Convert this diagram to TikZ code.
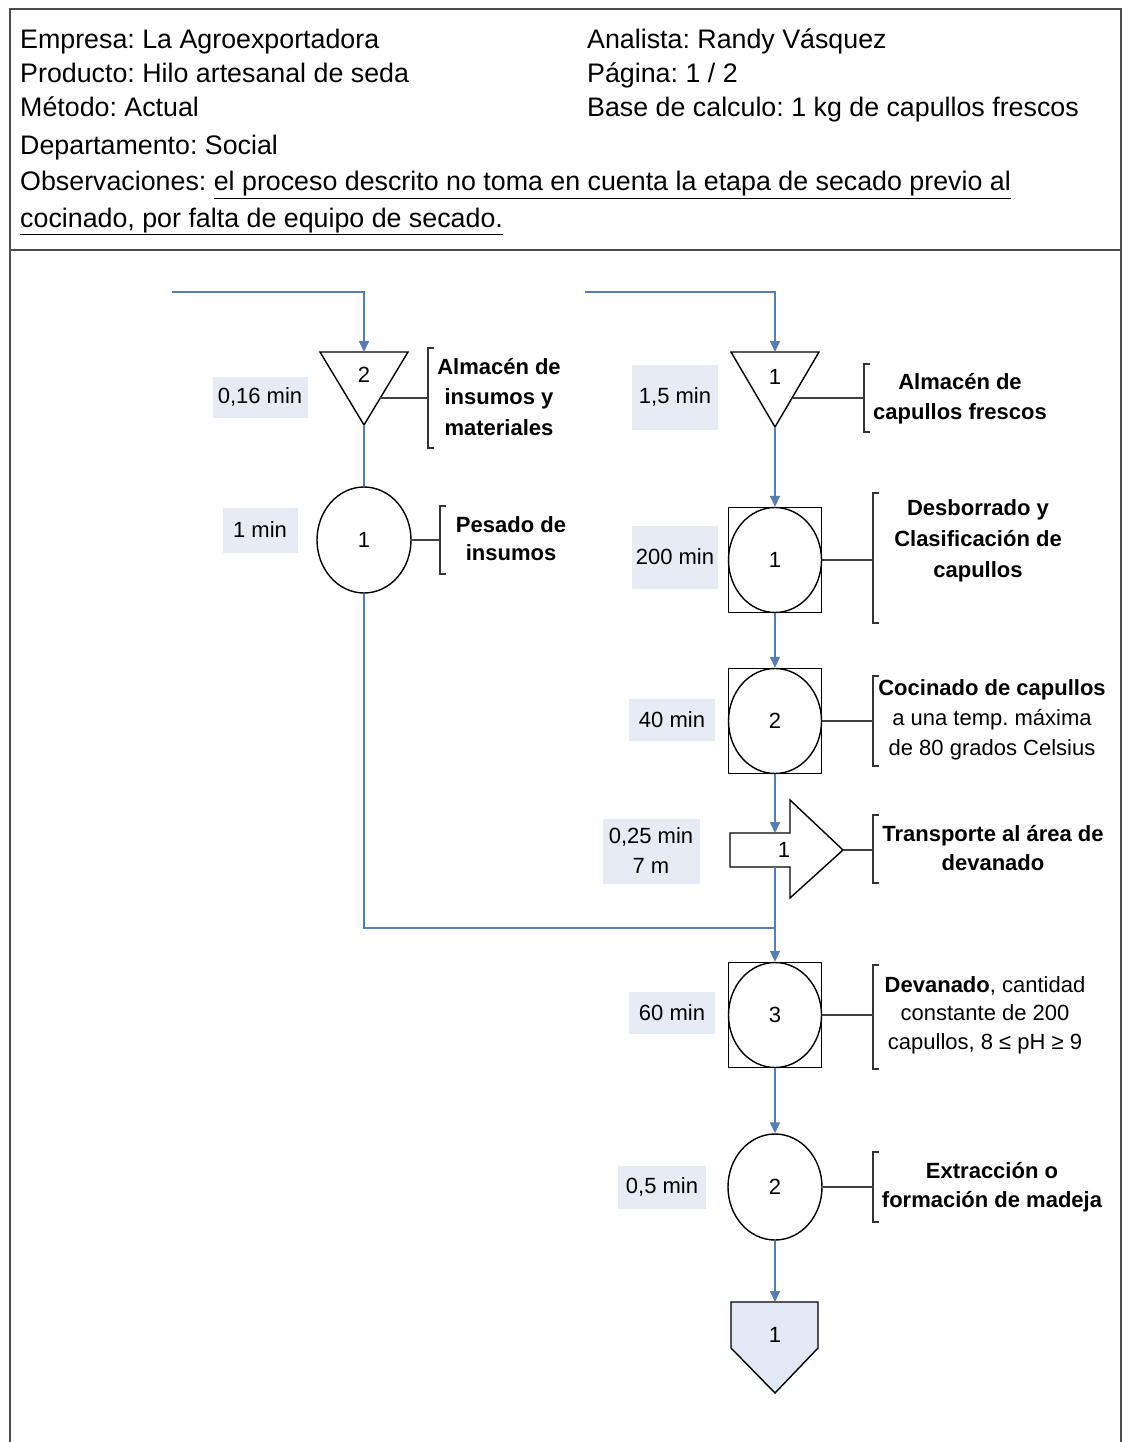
\documentclass[tikz,border=0pt]{standalone}
\usepackage{fontspec}
\setmainfont{Liberation Sans}
\frenchspacing
\usetikzlibrary{arrows.meta,shapes.geometric,calc,positioning}
\definecolor{flowblue}{RGB}{88,124,180}
\definecolor{timefill}{RGB}{231,235,243}
\definecolor{endfill}{RGB}{226,232,244}

\begin{document}
\begin{tikzpicture}[x=1pt, y=-1pt, >={Triangle[width=10pt,length=11pt]},
    flow/.style={draw=flowblue, line width=1.8pt},
    symb/.style={draw=black, line width=1.4pt},
    opcirc/.style={ellipse, symb, fill=white, minimum width=94pt, minimum height=106pt, inner sep=0pt, font=\fontsize{22}{26}\selectfont},
    opsq/.style={rectangle, symb, minimum width=93pt, minimum height=105pt, inner sep=0pt},
    timebox/.style={fill=timefill, align=center, inner sep=0pt, font=\fontsize{22}{30}\selectfont},
    desc/.style={align=center, inner sep=0pt, font=\fontsize{22}{30}\selectfont},
    tie/.style={draw=black!75, line width=1.8pt},
    brk/.style={draw=black!80, line width=1.4pt},
    hdr/.style={anchor=base west, inner sep=0pt, font=\fontsize{26.8}{32}\selectfont},
    num/.style={inner sep=0pt, font=\fontsize{22}{26}\selectfont}]
    \useasboundingbox (0,0) rectangle (1123,1442);

    % Frame and header
    \draw[black!70, line width=2pt] (10,1442) -- (10,9) -- (1121,9) -- (1121,1442);
    \draw[black!70, line width=2pt] (10,250) -- (1121,250);
    \node[hdr] (emp) at (20,49) {Empresa: La Agroexportadora};
    \node[hdr] (prod) at (20,83) {Producto: Hilo artesanal de seda};
    \node[hdr] (met) at (20,117) {Método: Actual};
    \node[hdr] (dep) at (20,155) {Departamento: Social};
    \node[hdr] (obs) at (20,191) {Observaciones: \underline{el proceso descrito no toma en cuenta la etapa de secado previo al}};
    \node[hdr] (obsb) at (20,227) {\underline{cocinado, por falta de equipo de secado.}};
    \node[hdr] (ana) at (587,49) {Analista: Randy Vásquez};
    \node[hdr] (pag) at (587,83) {Página: 1 / 2};
    \node[hdr] (base) at (587,117) {Base de calculo: 1 kg de capullos frescos};

    % Left branch: insumos
    \coordinate (in2) at (172,292);
    \coordinate (a2) at (364,352);
    \coordinate (a2b) at (364,425);
    \coordinate (a2s) at (380,398);
    \draw[symb, fill=white] (320,352) -- (408,352) -- (a2b) -- cycle;
    \node[num] (a2num) at (364,375) {2};
    \node[timebox, minimum width=95pt, minimum height=41pt] (t1) at (260,397) {0,16 min};
    \coordinate (br1) at (428,398);
    \draw[brk] ($(br1)+(6,-50)$) -- ++(-6,0) -- ++(0,100) -- ++(6,0);
    \node[desc, font=\fontsize{22}{30.5}\selectfont\bfseries] (d1) at (499,397) {Almacén de\\insumos y\\materiales};

    \node[opcirc] (pes) at (364,540) {1};
    \node[timebox, minimum width=75pt, minimum height=45pt] (t2) at (260,530) {1 min};
    \coordinate (br2) at (440,540);
    \draw[brk] ($(br2)+(6,-34)$) -- ++(-6,0) -- ++(0,68) -- ++(6,0);
    \node[desc, font=\fontsize{22}{28}\selectfont\bfseries] (d2) at (511,539) {Pesado de\\insumos};

    % Right branch: capullos
    \coordinate (in1) at (585,292);
    \coordinate (a1) at (775,352);
    \coordinate (a1b) at (775,427);
    \coordinate (a1s) at (793,398);
    \draw[symb, fill=white] (731,352) -- (819,352) -- (a1b) -- cycle;
    \node[num] (a1num) at (775,377) {1};
    \node[timebox, minimum width=86pt, minimum height=65pt] (t3) at (675,397) {1,5 min};
    \coordinate (br3) at (864,398);
    \draw[brk] ($(br3)+(6,-34)$) -- ++(-6,0) -- ++(0,68) -- ++(6,0);
    \node[desc, font=\fontsize{22}{30}\selectfont\bfseries] (d3) at (960,399) {Almacén de\\capullos frescos};

    \node[opsq] (sq1) at (775,560) {};
    \node[opcirc, minimum width=93pt, minimum height=105pt] (op1) at (sq1) {1};
    \node[timebox, minimum width=86pt, minimum height=63pt] (t4) at (675,557) {200 min};
    \coordinate (br4) at (873,560);
    \draw[brk] ($(br4)+(6,-67)$) -- ++(-6,0) -- ++(0,130) -- ++(6,0);
    \node[desc, font=\fontsize{22}{31}\selectfont\bfseries] (d4) at (978,541) {Desborrado y\\Clasificación de\\capullos};

    \node[opsq] (sq2) at (775,721) {};
    \node[opcirc, minimum width=93pt, minimum height=105pt] (op2) at (sq2) {2};
    \node[timebox, minimum width=86pt, minimum height=42pt] (t5) at (672,720) {40 min};
    \coordinate (br5) at (873,721);
    \draw[brk] ($(br5)+(6,-45)$) -- ++(-6,0) -- ++(0,90) -- ++(6,0);
    \node[desc] (d5) at (992,720) {\textbf{Cocinado de capullos}\\a una temp. máxima\\de 80 grados Celsius};

    % Transport
    \coordinate (trt) at (775,833);
    \coordinate (trb) at (775,867);
    \coordinate (trtip) at (843,850);
    \draw[symb, fill=white] (730,833) -- (790,833) -- (790,800) -- (trtip) -- (790,898) -- (790,867) -- (730,867) -- cycle;
    \node[num] (trnum) at (784,850) {1};
    \node[timebox, minimum width=97pt, minimum height=65pt] (t6) at (651,851) {0,25 min\\7 m};
    \coordinate (br6) at (873,850);
    \draw[brk] ($(br6)+(6,-35)$) -- ++(-6,0) -- ++(0,68) -- ++(6,0);
    \node[desc, font=\fontsize{22}{29}\selectfont\bfseries] (d6) at (993,848) {Transporte al área de\\devanado};

    \node[opsq] (sq3) at (775,1015) {};
    \node[opcirc, minimum width=93pt, minimum height=105pt] (op3) at (sq3) {3};
    \node[timebox, minimum width=86pt, minimum height=42pt] (t7) at (672,1013) {60 min};
    \coordinate (br7) at (873,1015);
    \draw[brk] ($(br7)+(6,-50)$) -- ++(-6,0) -- ++(0,104) -- ++(6,0);
    \node[desc, font=\fontsize{22}{28.5}\selectfont] (d7) at (985,1015) {\textbf{Devanado}, cantidad\\constante de 200\\capullos, 8 ≤ pH ≥ 9};

    \node[opcirc] (ext) at (775,1187) {2};
    \node[timebox, minimum width=88pt, minimum height=43pt] (t8) at (662,1187) {0,5 min};
    \coordinate (br8) at (873,1187);
    \draw[brk] ($(br8)+(6,-35)$) -- ++(-6,0) -- ++(0,70) -- ++(6,0);
    \node[desc, font=\fontsize{22}{29}\selectfont\bfseries] (d8) at (992,1187) {Extracción o\\formación de madeja};

    % Final storage
    \coordinate (alm) at (775,1302);
    \draw[symb, fill=endfill] (731,1302) -- (818,1302) -- (818,1348) -- (775,1393) -- (731,1348) -- cycle;
    \node[num] (almnum) at (775,1335) {1};

    % Flow lines
    \coordinate (join) at (775,928);
    \draw[flow, ->] (in2) -| (a2);
    \draw[flow] (a2b) -- (pes.north);
    \draw[flow] (pes.south) |- (join);
    \draw[flow, ->] (in1) -| (a1);
    \draw[flow, ->] (a1b) -- (sq1.north);
    \draw[flow, ->] (sq1.south) -- (sq2.north);
    \draw[flow, ->] (sq2.south) -- (trt);
    \draw[flow, ->] (trb) -- (sq3.north);
    \draw[flow, ->] (sq3.south) -- (ext.north);
    \draw[flow, ->] (ext.south) -- (alm);

    % Ties to the notes
    \draw[tie] (a2s) -- (br1);
    \draw[tie] (pes.east) -- (br2);
    \draw[tie] (a1s) -- (br3);
    \draw[tie] (sq1.east) -- (br4);
    \draw[tie] (sq2.east) -- (br5);
    \draw[tie] (trtip) -- (br6);
    \draw[tie] (sq3.east) -- (br7);
    \draw[tie] (ext.east) -- (br8);
\end{tikzpicture}
\end{document}
